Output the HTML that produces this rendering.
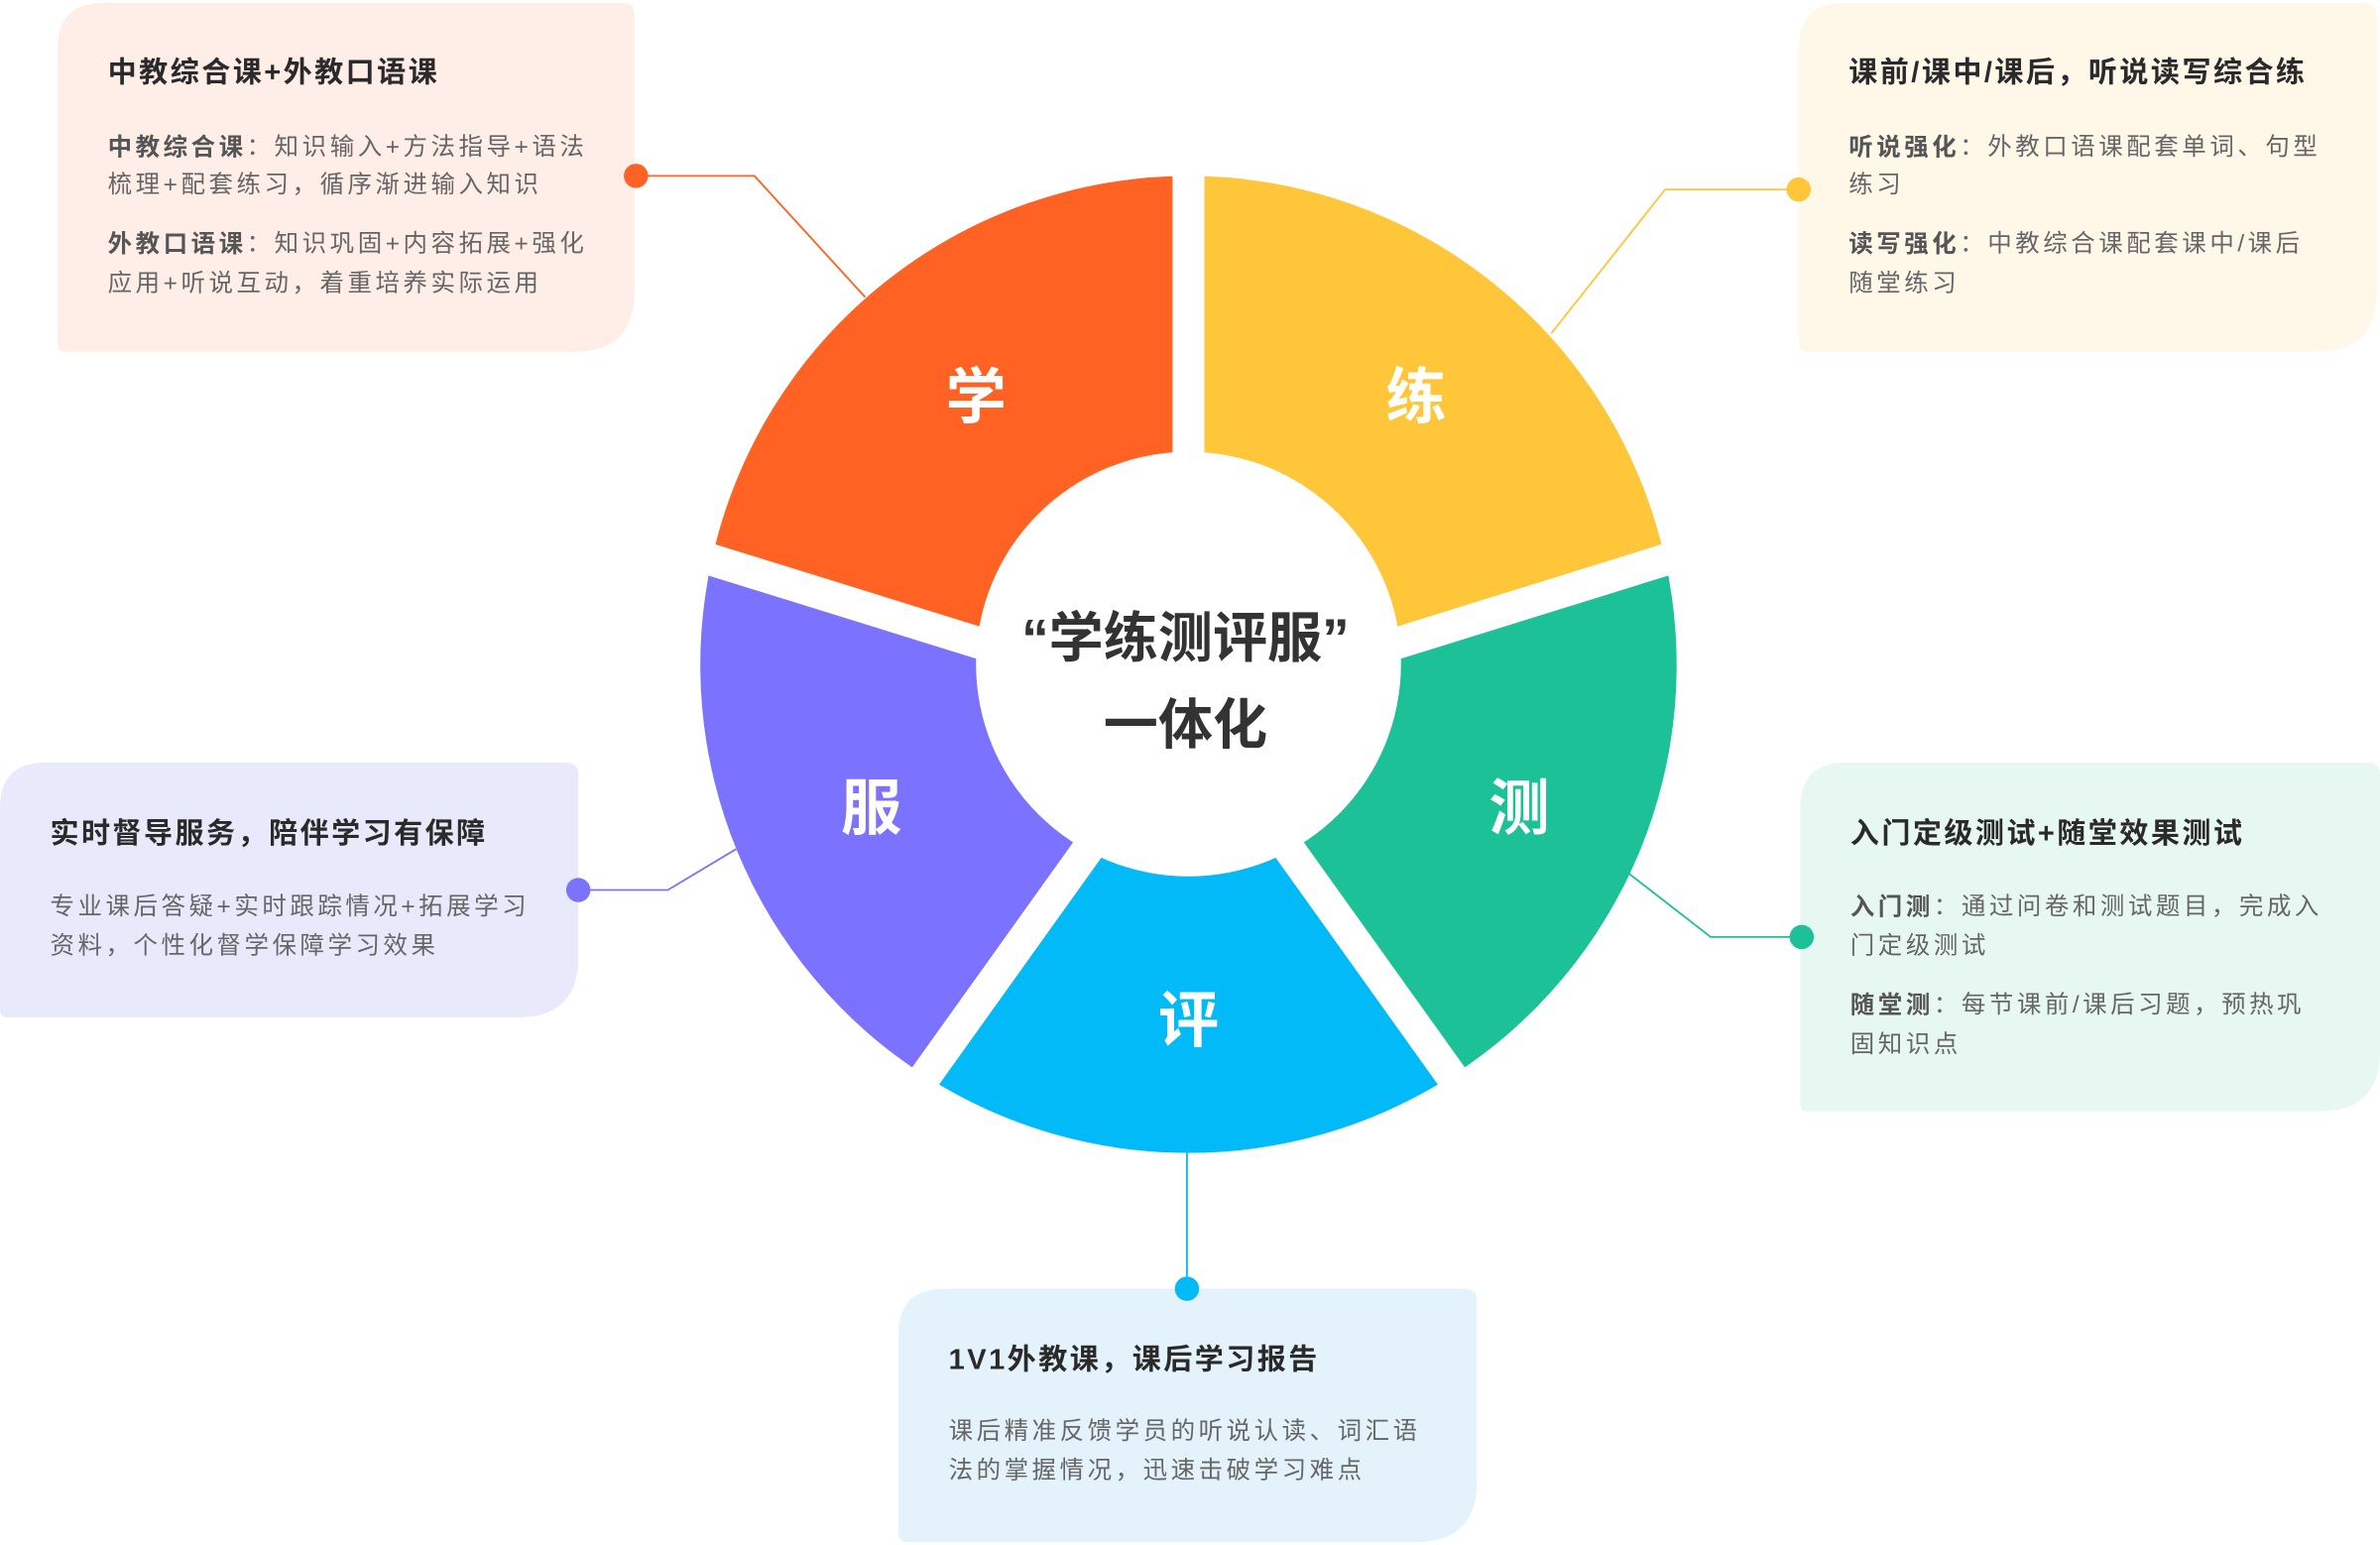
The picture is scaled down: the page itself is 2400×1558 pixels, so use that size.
<!DOCTYPE html>
<html><head><meta charset="utf-8"><style>
html,body{margin:0;padding:0;background:#fff;width:2400px;height:1558px;overflow:hidden}
svg{display:block}
text{font-family:"Liberation Sans","Noto Sans CJK SC",sans-serif}
.t{font-size:19px;font-weight:bold;fill:#2a2a2a;letter-spacing:1.6px}
.b{font-size:16px;fill:#666;letter-spacing:2.3px}
.b tspan.k{font-weight:bold;fill:#555}
.s{font-size:40px;font-weight:bold;fill:#fff}
</style></head><body>
<svg width="2400" height="1558" viewBox="0 0 1568 1019" preserveAspectRatio="none" xmlns="http://www.w3.org/2000/svg">
<!-- cards -->
<path d="M68 2 H410 Q418 2 418 10 V192 Q418 232 378 232 H43 Q38 232 38 227 V32 Q38 2 68 2Z" fill="#FFEEE7"/>
<path d="M1215 2 H1558 Q1566 2 1566 10 V192 Q1566 232 1526 232 H1190 Q1185 232 1185 227 V32 Q1185 2 1215 2Z" fill="#FFF7E8"/>
<path d="M30 503 H373 Q381 503 381 511 V631 Q381 671 341 671 H5 Q0 671 0 666 V533 Q0 503 30 503Z" fill="#E9E9FC"/>
<path d="M1216 503 H1560 Q1568 503 1568 511 V693 Q1568 733 1528 733 H1191 Q1186 733 1186 728 V533 Q1186 503 1216 503Z" fill="#E7F7F2"/>
<path d="M622 850 H965 Q973 850 973 858 V977 Q973 1017 933 1017 H597 Q592 1017 592 1012 V880 Q592 850 622 850Z" fill="#E4F3FB"/>

<!-- connectors -->
<polyline points="418,116 497,116 570,196" fill="none" stroke="#FF6223" stroke-width="1.2"/>
<circle cx="419" cy="116" r="8" fill="#FF6223"/>
<polyline points="1185,125 1097,125 1022,220" fill="none" stroke="#FFC63A" stroke-width="1.2"/>
<circle cx="1185" cy="125" r="8" fill="#FFC63A"/>
<polyline points="380,587 440,587 485,560" fill="none" stroke="#7B72FF" stroke-width="1.2"/>
<circle cx="381" cy="587" r="8" fill="#7B72FF"/>
<polyline points="1187,618 1127,618 1073,576" fill="none" stroke="#1DC198" stroke-width="1.2"/>
<circle cx="1187" cy="618" r="8" fill="#1DC198"/>
<line x1="782" y1="850" x2="782" y2="755" stroke="#03BAF9" stroke-width="1.2"/>
<circle cx="782" cy="850" r="8" fill="#03BAF9"/>

<!-- donut -->
<path d="M783 116 A322 322 0 0 1 1097 369 L921 424 L783 438 Z" fill="#FFC63A"/>
<path d="M1097 369 A322 322 0 0 1 956 710 L849 560 L783 438 L921 424 Z" fill="#1DC198"/>
<path d="M956 710 A322 322 0 0 1 610 710 L717 560 L783 438 L849 560 Z" fill="#03BAF9"/>
<path d="M610 710 A322 322 0 0 1 469 369 L645 424 L783 438 L717 560 Z" fill="#7B72FF"/>
<path d="M469 369 A322 322 0 0 1 783 116 L783 438 L645 424 Z" fill="#FF6223"/>
<g stroke="#fff" stroke-width="21">
<line x1="783" y1="438" x2="783" y2="100"/>
<line x1="783" y1="467" x2="1130" y2="359"/>
<line x1="800" y1="491" x2="985" y2="750"/>
<line x1="766" y1="491" x2="581" y2="750"/>
<line x1="783" y1="467" x2="436" y2="359"/>
</g>
<circle cx="783" cy="438" r="140" fill="#fff"/>

<text class="s" x="643" y="262" text-anchor="middle" dominant-baseline="central">学</text>
<text class="s" x="933" y="262" text-anchor="middle" dominant-baseline="central">练</text>
<text class="s" x="1001" y="533" text-anchor="middle" dominant-baseline="central">测</text>
<text class="s" x="783" y="673" text-anchor="middle" dominant-baseline="central">评</text>
<text class="s" x="574" y="533" text-anchor="middle" dominant-baseline="central">服</text>

<text x="781" y="421" text-anchor="middle" dominant-baseline="central" style="font-size:36px;font-weight:bold;fill:#333">“学练测评服”</text>
<text x="781" y="478" text-anchor="middle" dominant-baseline="central" style="font-size:36px;font-weight:bold;fill:#333">一体化</text>

<!-- card texts -->
<g dominant-baseline="central">
<text class="t" x="71" y="48">中教综合课+外教口语课</text>
<text class="b" x="71" y="97"><tspan class="k">中教综合课</tspan>：知识输入+方法指导+语法</text>
<text class="b" x="71" y="122">梳理+配套练习，循序渐进输入知识</text>
<text class="b" x="71" y="161"><tspan class="k">外教口语课</tspan>：知识巩固+内容拓展+强化</text>
<text class="b" x="71" y="187">应用+听说互动，着重培养实际运用</text>

<text class="t" x="1218" y="48">课前/课中/课后，听说读写综合练</text>
<text class="b" x="1218" y="97"><tspan class="k">听说强化</tspan>：外教口语课配套单词、句型</text>
<text class="b" x="1218" y="122">练习</text>
<text class="b" x="1218" y="161"><tspan class="k">读写强化</tspan>：中教综合课配套课中/课后</text>
<text class="b" x="1218" y="187">随堂练习</text>

<text class="t" x="33" y="550">实时督导服务，陪伴学习有保障</text>
<text class="b" x="33" y="598">专业课后答疑+实时跟踪情况+拓展学习</text>
<text class="b" x="33" y="624">资料，个性化督学保障学习效果</text>

<text class="t" x="1219" y="550">入门定级测试+随堂效果测试</text>
<text class="b" x="1219" y="598"><tspan class="k">入门测</tspan>：通过问卷和测试题目，完成入</text>
<text class="b" x="1219" y="624">门定级测试</text>
<text class="b" x="1219" y="663"><tspan class="k">随堂测</tspan>：每节课前/课后习题，预热巩</text>
<text class="b" x="1219" y="689">固知识点</text>

<text class="t" x="625" y="897">1V1外教课，课后学习报告</text>
<text class="b" x="625" y="944">课后精准反馈学员的听说认读、词汇语</text>
<text class="b" x="625" y="970">法的掌握情况，迅速击破学习难点</text>
</g>
</svg>
</body></html>
